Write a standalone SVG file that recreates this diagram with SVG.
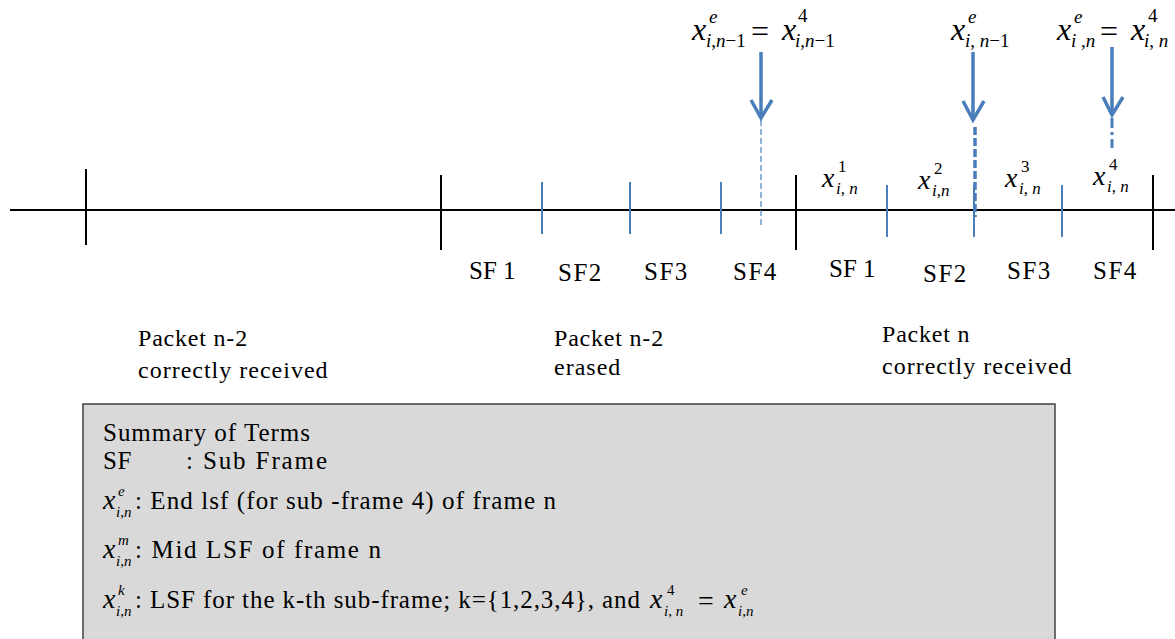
<svg xmlns="http://www.w3.org/2000/svg" width="1175" height="639" viewBox="0 0 1175 639" font-family="'Liberation Serif', 'Times New Roman', serif">
<style>
text{font-family:'Liberation Serif','Times New Roman',serif;fill:#000}
.it{font-style:italic}
.up{font-style:normal}
.lbl{font-size:24px}
.sf{font-size:25px}
.big{font-size:32px}
.sm{font-size:19px}
.mid{font-size:28px}
.sm2{font-size:17px}
.bx{font-size:25px}
.bxm{font-size:28px}
.bxs{font-size:15px}
.blk{stroke:#000;stroke-width:2;fill:none}
.blu{stroke:#4a7ebb;stroke-width:2;fill:none}
.arr{stroke:#4a7ebb;stroke-width:3.5;fill:none;stroke-linecap:butt}
</style>
<rect width="1175" height="639" fill="#fff"/>
<g id="connectors">
<line class="blk" x1="10" y1="210" x2="1175" y2="210"/>
<line class="blk" x1="86" y1="169" x2="86" y2="245"/>
<line class="blk" x1="441" y1="175" x2="441" y2="250"/>
<line class="blk" x1="796" y1="175" x2="796" y2="250"/>
<line class="blk" x1="1153" y1="175" x2="1153" y2="250"/>
<line class="blu" x1="542" y1="182" x2="542" y2="234"/>
<line class="blu" x1="630" y1="182" x2="630" y2="234"/>
<line class="blu" x1="721" y1="182" x2="721" y2="234"/>
<line class="blu" x1="887" y1="185" x2="887" y2="237"/>
<line class="blu" x1="974" y1="185" x2="974" y2="237"/>
<line class="blu" x1="1062" y1="185" x2="1062" y2="237"/>
<line x1="761" y1="120" x2="761" y2="227" stroke="#4a7ebb" stroke-width="1.2" stroke-dasharray="6 3"/>
<line class="arr" x1="761" y1="52" x2="761" y2="116"/>
<polyline class="arr" points="751,100 761,118 772,100"/>
<line class="arr" x1="973" y1="52" x2="973" y2="118"/>
<polyline class="arr" points="963,101 973,120 984,101"/>
<line x1="975" y1="127" x2="975" y2="217" stroke="#4a7ebb" stroke-width="3.5" stroke-dasharray="8 3"/>
<line class="arr" x1="1112" y1="47" x2="1112" y2="113"/>
<polyline class="arr" points="1103,97 1112,115 1123,97"/>
<line x1="1112" y1="118" x2="1112" y2="148" stroke="#4a7ebb" stroke-width="3" stroke-dasharray="10 4 3 4"/>
</g>
<g id="sf-labels">
<text class="sf" x="469" y="279">SF 1</text>
<text class="sf" x="558" y="281" letter-spacing="1.5">SF2</text>
<text class="sf" x="644" y="280" letter-spacing="1.5">SF3</text>
<text class="sf" x="733" y="280" letter-spacing="1.5">SF4</text>
<text class="sf" x="829" y="277">SF 1</text>
<text class="sf" x="923" y="282" letter-spacing="1.5">SF2</text>
<text class="sf" x="1007" y="279" letter-spacing="1.5">SF3</text>
<text class="sf" x="1093" y="279" letter-spacing="1.5">SF4</text>
</g>
<g id="packet-labels">
<text class="lbl" x="138" y="346" letter-spacing="0.8">Packet n-2</text>
<text class="lbl" x="138" y="378" letter-spacing="1">correctly received</text>
<text class="lbl" x="554" y="346" letter-spacing="0.8">Packet n-2</text>
<text class="lbl" x="554" y="375" letter-spacing="1">erased</text>
<text class="lbl" x="882" y="342" letter-spacing="0.8">Packet n</text>
<text class="lbl" x="882" y="374" letter-spacing="1">correctly received</text>
</g>
<g id="top-math">
<text class="big it" x="692" y="40">x</text>
<text class="sm it" x="709" y="23">e</text>
<text class="sm" x="706" y="47"><tspan class="it">i</tspan>,<tspan class="it">n</tspan>−1</text>
<text class="big" x="751" y="42">=</text>
<text class="big it" x="782" y="40">x</text>
<text class="sm" x="798" y="22">4</text>
<text class="sm" x="795" y="47"><tspan class="it">i</tspan>,<tspan class="it">n</tspan>−1</text>
<text class="big it" x="951" y="40">x</text>
<text class="sm it" x="968" y="23">e</text>
<text class="sm" x="965" y="47"><tspan class="it">i</tspan>, <tspan class="it">n</tspan>−1</text>
<text class="big it" x="1057" y="40">x</text>
<text class="sm it" x="1074" y="23">e</text>
<text class="sm" x="1071" y="47"><tspan class="it">i</tspan> ,<tspan class="it">n</tspan></text>
<text class="big" x="1100" y="42">=</text>
<text class="big it" x="1131" y="40">x</text>
<text class="sm" x="1148" y="22">4</text>
<text class="sm" x="1144" y="47"><tspan class="it">i</tspan>, <tspan class="it">n</tspan></text>
</g>
<g id="line-math">
<text class="mid it" x="822" y="187">x</text>
<text class="sm2" x="838" y="172">1</text>
<text class="sm2" x="836" y="194"><tspan class="it">i</tspan>, <tspan class="it">n</tspan></text>
<text class="mid it" x="918" y="189">x</text>
<text class="sm2" x="934" y="174">2</text>
<text class="sm2" x="932" y="196"><tspan class="it">i</tspan>,<tspan class="it">n</tspan></text>
<text class="mid it" x="1005" y="187">x</text>
<text class="sm2" x="1021" y="172">3</text>
<text class="sm2" x="1019" y="194"><tspan class="it">i</tspan>, <tspan class="it">n</tspan></text>
<text class="mid it" x="1093" y="185">x</text>
<text class="sm2" x="1109" y="170">4</text>
<text class="sm2" x="1107" y="192"><tspan class="it">i</tspan>, <tspan class="it">n</tspan></text>
</g>
<g id="summary">
<rect x="83" y="404" width="972" height="240" fill="#d9d9d9" stroke="#404040" stroke-width="1.5"/>
<text class="bx" x="103" y="441" textLength="207" lengthAdjust="spacing">Summary of Terms</text>
<text class="bx" x="103" y="469" letter-spacing="0.5">SF</text>
<text class="bx" x="186" y="469" textLength="141" lengthAdjust="spacing">: Sub Frame</text>
<text class="bxm it" x="103" y="509">x</text>
<text class="bxs it" x="118" y="496">e</text>
<text class="bxs" x="116" y="517"><tspan class="it">i</tspan>,<tspan class="it">n</tspan></text>
<text class="bx" x="135" y="509" textLength="421" lengthAdjust="spacing">: End lsf (for sub -frame 4) of frame n</text>
<text class="bxm it" x="103" y="558">x</text>
<text class="bxs it" x="118" y="545">m</text>
<text class="bxs" x="116" y="566"><tspan class="it">i</tspan>,<tspan class="it">n</tspan></text>
<text class="bx" x="135" y="558" textLength="246" lengthAdjust="spacing">: Mid LSF of frame n</text>
<text class="bxm it" x="103" y="608">x</text>
<text class="bxs it" x="118" y="595">k</text>
<text class="bxs" x="116" y="616"><tspan class="it">i</tspan>,<tspan class="it">n</tspan></text>
<text class="bx" x="135" y="608" textLength="505" lengthAdjust="spacing">: LSF for the k-th sub-frame; k={1,2,3,4}, and</text>
<text class="bxm it" x="650" y="608">x</text>
<text class="bxs" x="667" y="595">4</text>
<text class="bxs" x="664" y="616"><tspan class="it">i</tspan>, <tspan class="it">n</tspan></text>
<text class="bxm" x="698" y="610">=</text>
<text class="bxm it" x="724" y="608">x</text>
<text class="bxs it" x="741" y="595">e</text>
<text class="bxs" x="738" y="616"><tspan class="it">i</tspan>,<tspan class="it">n</tspan></text>
</g>
</svg>
